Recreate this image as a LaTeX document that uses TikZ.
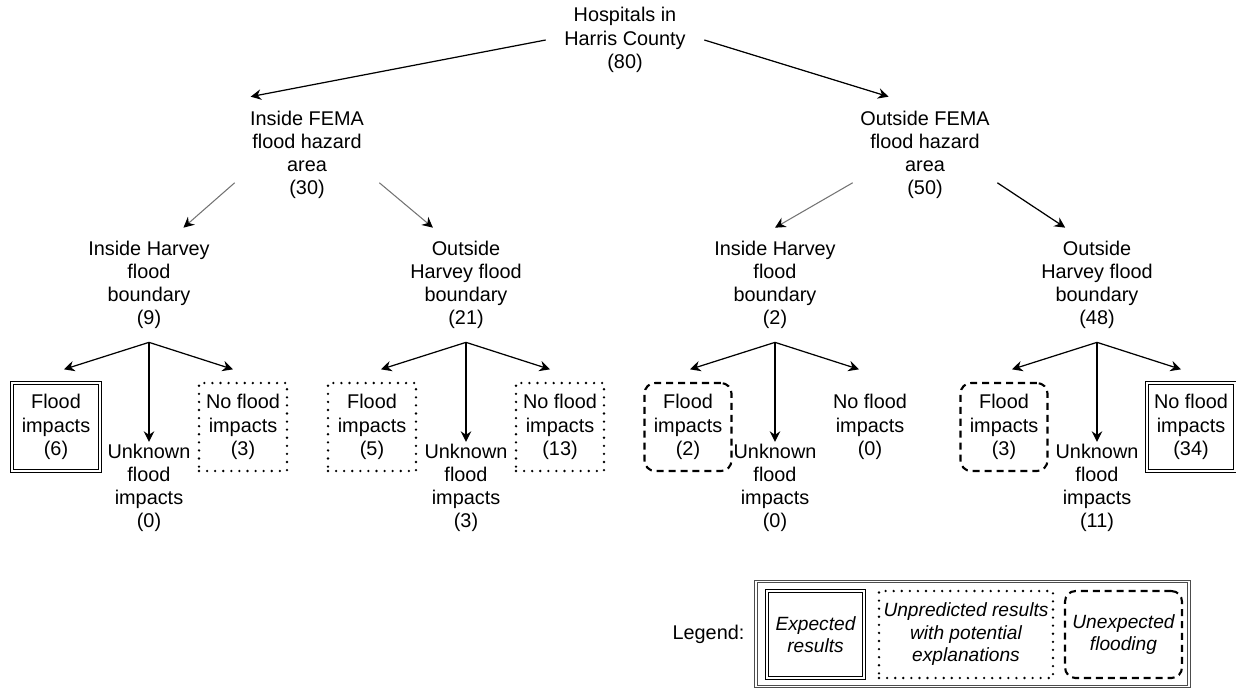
\documentclass[tikz,border=0pt]{standalone}
\usepackage{fontspec}
\setmainfont{Liberation Sans}
\usetikzlibrary{positioning,arrows.meta}

\tikzset{
  txt/.style={align=center, inner sep=1pt},
  arr/.style={-{Stealth[length=6pt,width=6pt,inset=2pt]}, line width=0.7pt},
  grayarr/.style={-{Stealth[length=6pt,width=6pt,inset=2pt,color=black]}, draw=black!55, line width=0.6pt},
  expbox/.style={txt, draw, double, line width=0.6pt, double distance=1.3pt, minimum width=1.76cm, minimum height=1.76cm},
  dotbox/.style={txt, draw, line width=1.5pt, line cap=round, dash pattern=on 0pt off 4.6pt, minimum width=1.76cm, minimum height=1.76cm},
  dashbox/.style={txt, draw, line width=1.2pt, dash pattern=on 4pt off 2.8pt, rounded corners=6pt, minimum width=1.74cm, minimum height=1.76cm},
  midnode/.style={txt, minimum width=2.88cm, minimum height=2.32cm},
  lownode/.style={txt, minimum width=2.6cm, minimum height=2.28cm},
  legframe/.style={draw=black!70, double, line width=0.55pt, double distance=1pt, inner sep=0pt},
  legtext/.style={font=\fontsize{10.9}{12.8}\itshape\selectfont},
}

\begin{document}
\begin{tikzpicture}[x=0.02cm, y=-0.02cm, font=\fontsize{11.3}{13.2}\selectfont]
      \useasboundingbox (0,0) rectangle (1236,690);

      % Define the top nodes
      \node[txt, minimum width=3.16cm] (root) at (625,40) {Hospitals in\\Harris County\\(80)};
      \node[midnode] (ifema) at (307,155) {Inside FEMA\\flood hazard\\area\\(30)};
      \node[midnode] (ofema) at (925,155) {Outside FEMA\\flood hazard\\area\\(50)};

      \draw[arr] (root.west) -- (ifema.134.5);
      \draw[arr] (root.east) -- (ofema.122.5);

      % Define the Harvey boundary nodes
      \node[lownode] (ih1) at (149,285) {Inside Harvey\\flood\\boundary\\(9)};
      \node[lownode] (oh1) at (466,285) {Outside\\Harvey flood\\boundary\\(21)};
      \node[lownode] (ih2) at (775,285) {Inside Harvey\\flood\\boundary\\(2)};
      \node[lownode] (oh2) at (1097,285) {Outside\\Harvey flood\\boundary\\(48)};

      \draw[grayarr] (ifema.201) -- (ih1.59);
      \draw[grayarr] (ifema.339) -- (oh1.120);
      \draw[grayarr] (ofema.201) -- (ih2.north);
      \draw[arr] (ofema.339) -- (oh2.119);

      % Define the impact nodes
      \node[expbox] (fb1) at (56,427) {Flood\\impacts\\(6)};
      \node[txt] (unk1) at (149,488) {Unknown\\flood\\impacts\\(0)};
      \node[dotbox] (nf1) at (243,427) {No flood\\impacts\\(3)};

      \node[dotbox] (fb2) at (372,427) {Flood\\impacts\\(5)};
      \node[txt] (unk2) at (466,488) {Unknown\\flood\\impacts\\(3)};
      \node[dotbox] (nf2) at (560,427) {No flood\\impacts\\(13)};

      \node[dashbox] (fb3) at (688,427) {Flood\\impacts\\(2)};
      \node[txt] (unk3) at (775,488) {Unknown\\flood\\impacts\\(0)};
      \node[txt] (nf3) at (870,427) {No flood\\impacts\\(0)};

      \node[dashbox] (fb4) at (1004,427) {Flood\\impacts\\(3)};
      \node[txt] (unk4) at (1097,488) {Unknown\\flood\\impacts\\(11)};
      \node[expbox] (nf4) at (1191,427) {No flood\\impacts\\(34)};

      % Draw the three arrows under each boundary node
      \foreach \p/\g in {ih1/1, oh1/2, ih2/3, oh2/4} {
          \path (\p.south) ++(-85,27) coordinate (tl\g);
          \path (\p.south) ++(84,27) coordinate (tr\g);
          \draw[arr] (\p.south) -- (tl\g);
          \draw[arr] (\p.south) -- (tr\g);
          \draw[arr] (\p.south) -- (unk\g.north);
      }

      % Legend
      \node[legframe, minimum width=8.66cm, minimum height=2.1cm] (legbox) at (972.5,634) {};
      \node[left=0.1cm of legbox] (leglabel) {Legend:};
      \node[expbox, legtext, minimum width=1.94cm, minimum height=1.74cm] (lexp) at (815.5,634.5) {Expected\\results};
      \node[dotbox, legtext, minimum width=3.48cm, minimum height=1.74cm] (ldot) at (966,634.5) {Unpredicted results\\with potential\\explanations};
      \node[dashbox, legtext, minimum width=2.34cm, minimum height=1.74cm] (ldash) at (1123.5,634.5) {Unexpected\\flooding};
\end{tikzpicture}
\end{document}
